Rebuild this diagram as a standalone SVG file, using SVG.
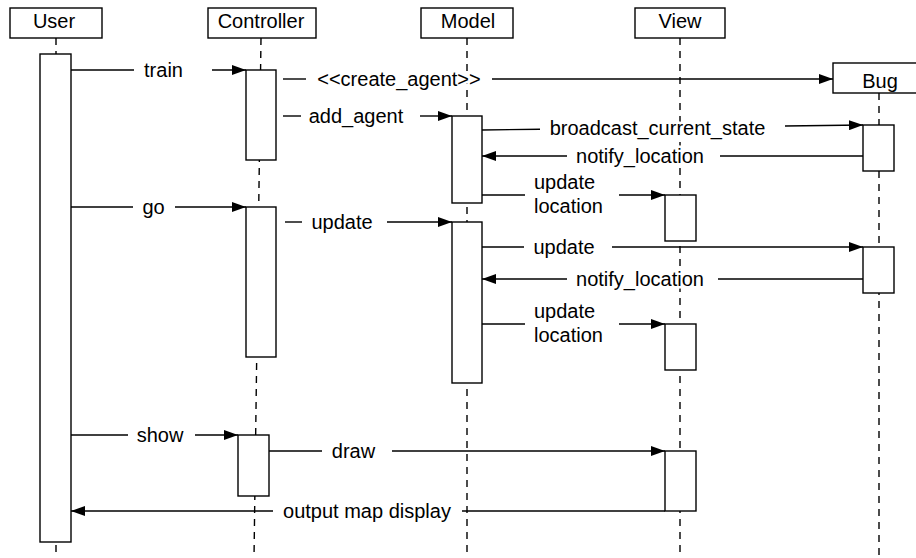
<svg xmlns="http://www.w3.org/2000/svg" width="916" height="558" viewBox="0 0 916 558">
<style>
.box{fill:#fff;stroke:#000;stroke-width:1.4}
.life{fill:none;stroke:#000;stroke-width:1.4;stroke-dasharray:7 6}
.msg{fill:none;stroke:#000;stroke-width:1.4}
text{font-family:"Liberation Sans",Arial,Helvetica,sans-serif;font-size:20px;fill:#000}
#connectors text{stroke:#fff;stroke-width:5;stroke-linejoin:round;paint-order:stroke}
.c{text-anchor:middle}
</style>
<defs>
<marker id="ah" viewBox="0 0 14 10" refX="14" refY="5" markerWidth="14" markerHeight="10" markerUnits="userSpaceOnUse" orient="auto">
<path d="M0,0 L14,5 L0,10 Z" fill="#000"/>
</marker>
</defs>
<g id="lifelines">
<line class="life" x1="56" y1="38" x2="56" y2="558"/>
<line class="life" x1="261" y1="38" x2="254" y2="558"/>
<line class="life" x1="467" y1="38" x2="467" y2="558"/>
<line class="life" x1="680" y1="38" x2="680" y2="558"/>
<line class="life" x1="879" y1="93" x2="879" y2="558"/>
</g>
<g id="User">
<rect class="box" x="10" y="8" width="92" height="30"/>
<text class="c" x="54" y="28">User</text>
<rect class="box" x="40" y="54" width="31" height="488"/>
</g>
<g id="Controller">
<rect class="box" x="208" y="8" width="108" height="30"/>
<text class="c" x="261" y="28">Controller</text>
<rect class="box" x="246" y="70" width="30" height="90"/>
<rect class="box" x="246" y="207" width="30" height="150"/>
<rect class="box" x="238" y="435" width="31" height="61"/>
</g>
<g id="Model">
<rect class="box" x="421" y="8" width="92" height="30"/>
<text class="c" x="468" y="28">Model</text>
<rect class="box" x="452" y="116" width="30" height="87"/>
<rect class="box" x="452" y="222" width="30" height="161"/>
</g>
<g id="View">
<rect class="box" x="635" y="8" width="90" height="30"/>
<text class="c" x="680" y="28">View</text>
<rect class="box" x="665" y="195" width="31" height="46"/>
<rect class="box" x="665" y="324" width="31" height="46"/>
<rect class="box" x="665" y="451" width="31" height="60"/>
</g>
<g id="Bug">
<rect class="box" x="833" y="63" width="92" height="30"/>
<text class="c" x="880" y="88">Bug</text>
<rect class="box" x="863" y="125" width="31" height="46"/>
<rect class="box" x="863" y="247" width="31" height="46"/>
</g>
<g id="connectors">
<line class="msg" x1="71" y1="70" x2="134" y2="70"/>
<line class="msg" x1="212" y1="70" x2="246" y2="70" marker-end="url(#ah)"/>
<text class="c" x="163.5" y="77">train</text>
<line class="msg" x1="283" y1="79" x2="306" y2="79"/>
<line class="msg" x1="492" y1="79" x2="833" y2="79" marker-end="url(#ah)"/>
<text class="c" x="399" y="86">&lt;&lt;create_agent&gt;&gt;</text>
<line class="msg" x1="283" y1="116" x2="301" y2="116"/>
<line class="msg" x1="420" y1="116" x2="452" y2="116" marker-end="url(#ah)"/>
<text class="c" x="356" y="123">add_agent</text>
<line class="msg" x1="482" y1="130" x2="540" y2="129.2"/>
<line class="msg" x1="785" y1="126" x2="863" y2="125" marker-end="url(#ah)"/>
<text class="c" x="657.5" y="134.5">broadcast_current_state</text>
<line class="msg" x1="863" y1="156" x2="720" y2="156"/>
<line class="msg" x1="567" y1="156" x2="482" y2="156" marker-end="url(#ah)"/>
<text class="c" x="640" y="163">notify_location</text>
<line class="msg" x1="482" y1="195" x2="525" y2="195"/>
<line class="msg" x1="619" y1="195" x2="665" y2="195" marker-end="url(#ah)"/>
<text x="534" y="188.5">update</text>
<text x="534" y="212.5">location</text>
<line class="msg" x1="71" y1="207" x2="133" y2="207"/>
<line class="msg" x1="175" y1="207" x2="246" y2="207" marker-end="url(#ah)"/>
<text class="c" x="153.5" y="214">go</text>
<line class="msg" x1="285" y1="222" x2="302" y2="222"/>
<line class="msg" x1="387" y1="222" x2="452" y2="222" marker-end="url(#ah)"/>
<text class="c" x="342" y="229">update</text>
<line class="msg" x1="482" y1="247" x2="524" y2="247"/>
<line class="msg" x1="612" y1="247" x2="863" y2="247" marker-end="url(#ah)"/>
<text class="c" x="564" y="254">update</text>
<line class="msg" x1="863" y1="279" x2="718" y2="279"/>
<line class="msg" x1="567" y1="279" x2="482" y2="279" marker-end="url(#ah)"/>
<text class="c" x="640" y="286">notify_location</text>
<line class="msg" x1="482" y1="324" x2="525" y2="324"/>
<line class="msg" x1="619" y1="324" x2="665" y2="324" marker-end="url(#ah)"/>
<text x="534" y="317.5">update</text>
<text x="534" y="341.5">location</text>
<line class="msg" x1="71" y1="435" x2="128" y2="435"/>
<line class="msg" x1="195" y1="435" x2="238" y2="435" marker-end="url(#ah)"/>
<text class="c" x="160" y="442">show</text>
<line class="msg" x1="269" y1="451" x2="322" y2="451"/>
<line class="msg" x1="392" y1="451" x2="665" y2="451" marker-end="url(#ah)"/>
<text class="c" x="353.5" y="458">draw</text>
<line class="msg" x1="665" y1="511" x2="462" y2="511"/>
<line class="msg" x1="273" y1="511" x2="71" y2="511" marker-end="url(#ah)"/>
<text class="c" x="367" y="518">output map display</text>
</g>
</svg>
